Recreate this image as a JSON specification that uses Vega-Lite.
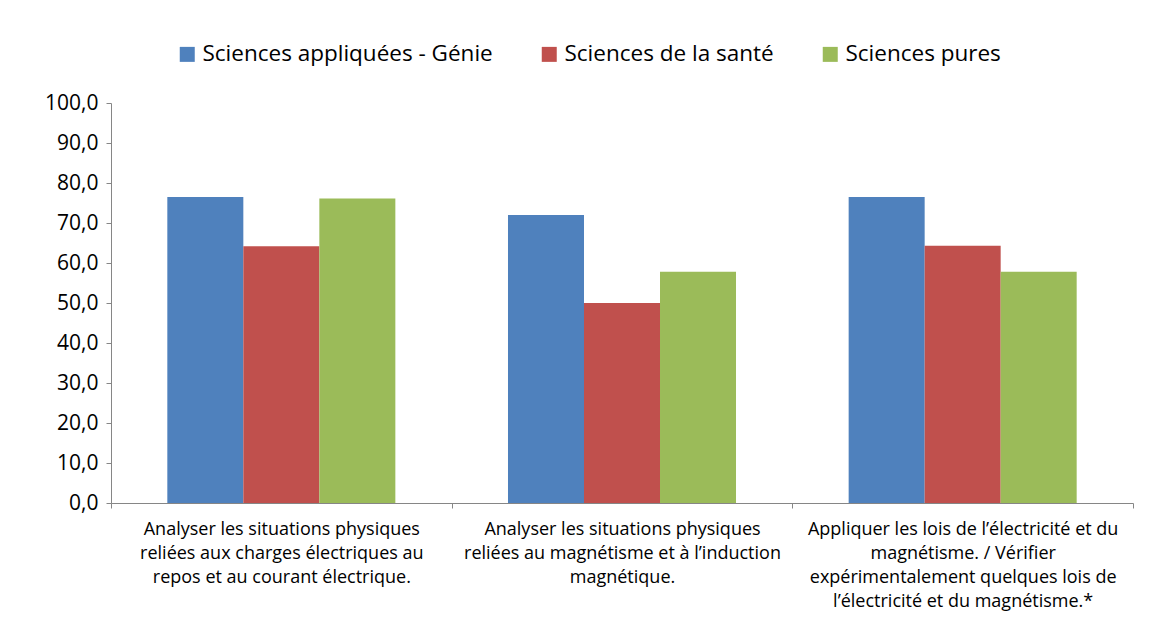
{
  "$schema": "https://vega.github.io/schema/vega-lite/v6.json",
  "width": 1022,
  "height": 400,
  "autosize": "none",
  "padding": {"left": 111, "top": 103, "right": 21, "bottom": 129},
  "background": "white",
  "config": {
    "view": {"stroke": null},
    "font": "Open Sans",
    "axis": {"labelColor": "#000000", "labelFont": "Open Sans", "domainColor": "#868686", "tickColor": "#868686", "grid": false, "title": null}
  },
  "data": {
    "values": [
      {"critere": "C1", "groupe": "Sciences appliquées - Génie", "valeur": 76.5},
      {"critere": "C1", "groupe": "Sciences de la santé", "valeur": 64.2},
      {"critere": "C1", "groupe": "Sciences pures", "valeur": 76.1},
      {"critere": "C2", "groupe": "Sciences appliquées - Génie", "valeur": 72.0},
      {"critere": "C2", "groupe": "Sciences de la santé", "valeur": 50.0},
      {"critere": "C2", "groupe": "Sciences pures", "valeur": 57.8},
      {"critere": "C3", "groupe": "Sciences appliquées - Génie", "valeur": 76.5},
      {"critere": "C3", "groupe": "Sciences de la santé", "valeur": 64.3},
      {"critere": "C3", "groupe": "Sciences pures", "valeur": 57.8}
    ]
  },
  "mark": {"type": "bar"},
  "encoding": {
    "x": {
      "field": "critere",
      "type": "nominal",
      "sort": ["C1", "C2", "C3"],
      "scale": {"paddingInner": 0, "paddingOuter": 0},
      "axis": {
        "labelAngle": 0,
        "tickBand": "extent",
        "tickSize": 5,
        "labelFontSize": 18,
        "labelPadding": 12,
        "labelLimit": 400,
        "labelLineHeight": 24,
        "labelBaseline": "top",
        "labelExpr": "datum.value == 'C1' ? ['Analyser les situations physiques', 'reliées aux charges électriques au', 'repos et au courant électrique.'] : datum.value == 'C2' ? ['Analyser les situations physiques', 'reliées au magnétisme et à l’induction', 'magnétique.'] : datum.value == 'C3' ? ['Appliquer les lois de l’électricité et du', 'magnétisme. / Vérifier', 'expérimentalement quelques lois de', 'l’électricité et du magnétisme.*'] : ''"
      }
    },
    "xOffset": {
      "field": "groupe",
      "type": "nominal",
      "sort": ["Sciences appliquées - Génie", "Sciences de la santé", "Sciences pures"],
      "scale": {"paddingInner": 0, "paddingOuter": 0.741}
    },
    "y": {
      "field": "valeur",
      "type": "quantitative",
      "scale": {"domain": [0, 100], "nice": false},
      "axis": {
        "values": [0, 10, 20, 30, 40, 50, 60, 70, 80, 90, 100],
        "labelExpr": "replace(format(datum.value, '.1f'), '.', ',')",
        "labelFontSize": 21,
        "tickSize": 5,
        "labelPadding": 8
      }
    },
    "color": {
      "field": "groupe",
      "type": "nominal",
      "sort": ["Sciences appliquées - Génie", "Sciences de la santé", "Sciences pures"],
      "scale": {"range": ["#4F81BD", "#C0504D", "#9BBB59"]},
      "legend": {
        "orient": "none",
        "direction": "horizontal",
        "legendX": 65,
        "legendY": -60,
        "padding": 0,
        "title": null,
        "symbolType": "square",
        "symbolSize": 225,
        "symbolStrokeWidth": 0,
        "labelFontSize": 22.5,
        "labelColor": "#000000",
        "labelOffset": 4,
        "columnPadding": 45,
        "labelLimit": 400
      }
    }
  }
}
